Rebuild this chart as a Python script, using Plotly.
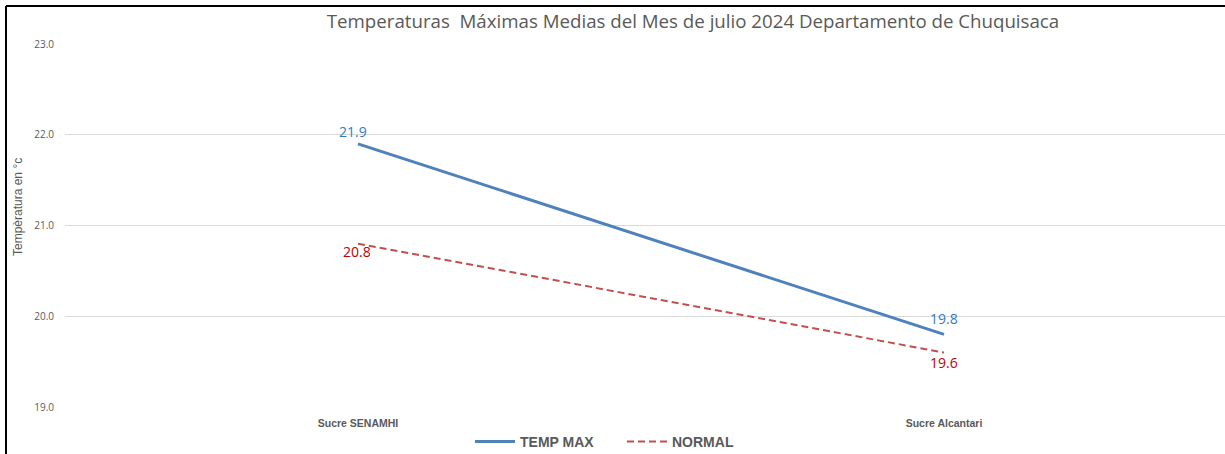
import plotly.graph_objects as go

categories = ["Sucre SENAMHI", "Sucre Alcantari"]
temp_max = [21.9, 19.8]
normal = [20.8, 19.6]
y_ticks = [19.0, 20.0, 21.0, 22.0, 23.0]

W, H = 1225, 454
ml, mr, mt, mb = 65, 0, 44, 47

LBL_FONT = "Open Sans, DejaVu Sans"
NARROW = "Liberation Sans Narrow, Liberation Sans, Arial"

fig = go.Figure()
fig.add_trace(go.Scatter(
    x=categories, y=temp_max, name="TEMP MAX", mode="lines",
    line=dict(color="#4F81BD", width=3),
))
fig.add_trace(go.Scatter(
    x=categories, y=normal, name="NORMAL", mode="lines",
    line=dict(color="#C0504D", width=2, dash="7px,4px"),
))

# data labels (offsets in px from each point)
tm_shift = [(-5, 12), (0, 16)]
nm_shift = [(-1, -8), (0, -10)]
for c, v, (dx, dy) in zip(categories, temp_max, tm_shift):
    fig.add_annotation(x=c, y=v, text=f"{v:.1f}", showarrow=False, xshift=dx, yshift=dy,
                       font=dict(color="#2E7BC9", size=14, family=LBL_FONT))
for c, v, (dx, dy) in zip(categories, normal, nm_shift):
    fig.add_annotation(x=c, y=v, text=f"{v:.1f}", showarrow=False, xshift=dx, yshift=dy,
                       font=dict(color="#C00000", size=14, family=LBL_FONT))

plot_w = W - ml - mr
plot_h = H - mt - mb
px = lambda p: (p - ml) / plot_w
py = lambda p: (H - mb - p) / plot_h

fig.update_layout(
    width=W, height=H,
    margin=dict(l=ml, r=mr, t=mt, b=mb, autoexpand=False),
    paper_bgcolor="white", plot_bgcolor="white",
    title=dict(
        text="Temperaturas  Máximas Medias del Mes de julio 2024 Departamento de Chuquisaca",
        x=px(693), xanchor="center", xref="paper",
        y=1 - 21 / H, yanchor="middle",
        font=dict(family=LBL_FONT, size=18.7, color="#595959"),
    ),
    xaxis=dict(
        type="category", range=[-0.5, -0.5 + plot_w / 586],
        showgrid=False, showline=False, zeroline=False, ticks="",
        ticklabelstandoff=8, automargin=False,
        tickfont=dict(family=NARROW, size=10.5, color="#595959", weight="bold"),
    ),
    yaxis=dict(
        range=[19, 23], tickvals=y_ticks, ticktext=[f"{v:.1f}" for v in y_ticks],
        showgrid=True, gridcolor="#D9D9D9", gridwidth=1, automargin=False,
        zeroline=False, showline=False, ticks="", ticklabelstandoff=10,
        tickfont=dict(family=LBL_FONT, size=10, color="#595959"),
    ),
    legend=dict(
        orientation="h", x=px(622), xanchor="center", y=py(442), yanchor="middle",
        font=dict(family=NARROW, size=14, color="#595959", weight="bold"),
        itemwidth=40, traceorder="normal", entrywidth=97,
    ),
    showlegend=True,
)

fig.add_annotation(
    text="Tempèratura en °c", textangle=-90, showarrow=False,
    xref="paper", yref="paper", x=px(18), y=py(207),
    xanchor="center", yanchor="middle",
    font=dict(family=NARROW, size=12, color="#595959"),
)

# black frame lines at top and left
fig.add_shape(type="line", xref="paper", yref="paper", x0=px(6), x1=px(1225), y0=py(6), y1=py(6),
              line=dict(color="black", width=2))
fig.add_shape(type="line", xref="paper", yref="paper", x0=px(6), x1=px(6), y0=py(6), y1=py(454),
              line=dict(color="black", width=2))

fig.write_html("out.html", config={"displayModeBar": False},
               post_script="document.body.style.margin='0';")
